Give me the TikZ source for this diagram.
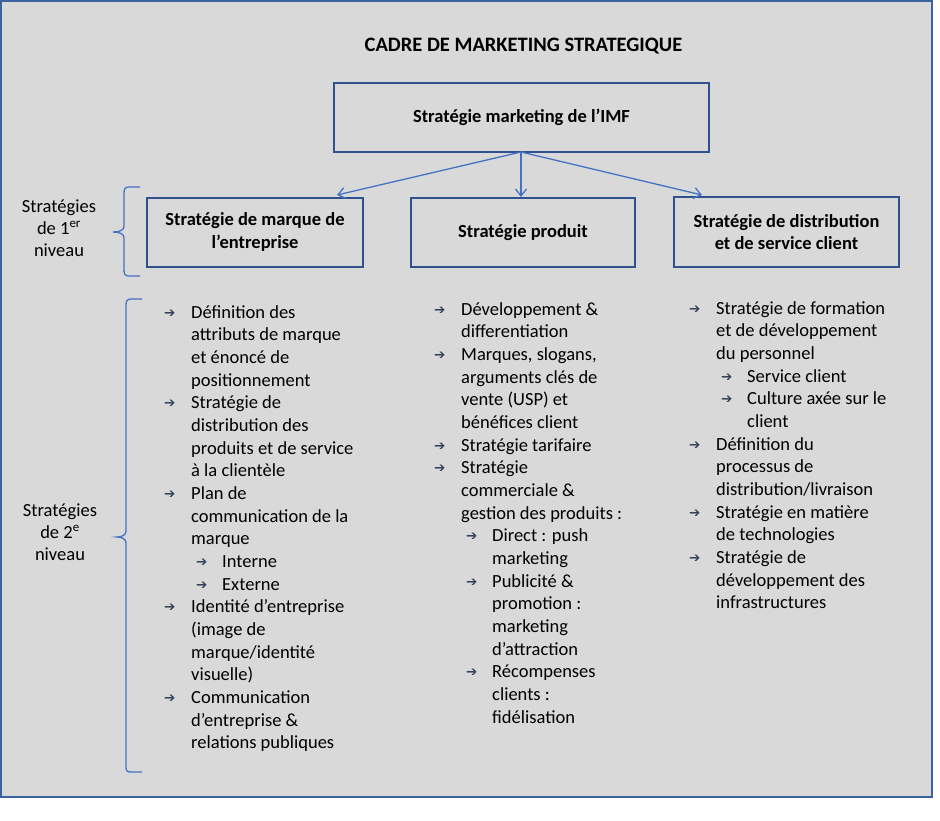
\documentclass[tikz,border=0pt]{standalone}
\usepackage{fontspec}
\setmainfont{Carlito}
\newfontfamily\symfont{DejaVu Sans}
\usetikzlibrary{arrows.meta}
\definecolor{bgc}{HTML}{D9D9D9}
\definecolor{framec}{HTML}{3D62A0}
\definecolor{boxc}{HTML}{2F528F}
\definecolor{arrc}{HTML}{4472C4}
\definecolor{bulc}{HTML}{36445A}
\newcommand{\bul}{\raisebox{0.8pt}{\color{bulc}\symfont\fontsize{13.5}{13.5}\selectfont ➔}}
\newcommand{\bi}{\leavevmode\llap{\makebox[27pt][l]{\bul}}}
\newcommand{\sbi}{\leavevmode\hspace*{31pt}\llap{\makebox[26pt][l]{\bul}}}
\newcommand{\sbc}{\leavevmode\hspace*{31pt}}
\newcommand{\colbox}[2]{\parbox[t]{#1}{\raggedright\fontsize{18.5}{22.67}\selectfont #2}}
\begin{document}
\begin{tikzpicture}[x=1pt,y=-1pt,
  lvlbox/.style={draw=boxc,line width=2pt,fill=none,align=center,font=\fontsize{18.5}{22.5}\selectfont\bfseries,inner sep=0pt},
  conn/.style={draw=arrc,line width=1.3pt,-{Straight Barb[length=7pt,width=11pt,line width=1.3pt]}},
  brace/.style={draw=arrc,line width=1.3pt},
  side/.style={align=center,font=\fontsize{18.5}{22}\selectfont,inner sep=0pt}]
\useasboundingbox (0,0) rectangle (940,820);
\fill[bgc] (1,1) rectangle (932,797);
\draw[framec,line width=1.5pt] (1,1) rectangle (932,797);
\node[anchor=base,font=\fontsize{20.5}{24}\selectfont\bfseries,inner sep=0pt] (title) at (523.5,51) {CADRE DE MARKETING STRATEGIQUE};
\node[lvlbox,minimum width=375pt,minimum height=69pt] (top) at (521.5,117.5) {Stratégie marketing de l’IMF};
\node[lvlbox,minimum width=216pt,minimum height=69pt] (b1) at (255,232) {Stratégie de marque de\\l’entreprise};
\node[lvlbox,minimum width=224pt,minimum height=69pt] (b2) at (523,232.5) {Stratégie produit};
\node[lvlbox,minimum width=225pt,minimum height=70pt] (b3) at (786.5,232) {Stratégie de distribution\\et de service client};
\coordinate (src) at (521,152);
\coordinate (t1) at (337,195);
\coordinate (t3) at (702,195);
\draw[conn] (src) -- (t1);
\draw[conn] (src) -- (src |- b2.north);
\draw[conn] (src) -- (t3);
% braces
\draw[brace] (140,187) -- (129,187) .. controls (125,187) and (124,189) .. (124,193) -- (124,226) .. controls (124,230) and (120,232) .. (113,232) .. controls (120,232) and (124,234) .. (124,238) -- (124,270) .. controls (124,274) and (125,276) .. (129,276) -- (140,276);
\draw[brace] (142,299) -- (131,299) .. controls (127,299) and (126,301) .. (126,305) -- (126,531) .. controls (126,535) and (122,537) .. (117,537) .. controls (122,537) and (126,539) .. (126,543) -- (126,767) .. controls (126,771) and (127,772) .. (131,772) -- (142,772);
\node[side,anchor=base] (l1) at (59,256) {Stratégies\\de 1\textsuperscript{er}\\niveau};
\node[side,anchor=base] (l2) at (60,560) {Stratégies\\de 2\textsuperscript{e}\\niveau};
% columns
\node[anchor=base west,inner sep=0pt] (c1) at (191,318) {\colbox{200pt}{%
\bi Définition des\\
attributs de marque\\
et énoncé de\\
positionnement\\
\bi Stratégie de\\
distribution des\\
produits et de service\\
à la clientèle\\
\bi Plan de\\
communication de la\\
marque\\
\sbi Interne\\
\sbi Externe\\
\bi Identité d’entreprise\\
(image de\\
marque/identité\\
visuelle)\\
\bi Communication\\
d’entreprise \&\\
relations publiques}};
\node[anchor=base west,inner sep=0pt] (c2) at (461,315) {\colbox{200pt}{%
\bi Développement \&\\
differentiation\\
\bi Marques, slogans,\\
arguments clés de\\
vente (USP) et\\
bénéfices client\\
\bi Stratégie tarifaire\\
\bi Stratégie\\
commerciale \&\\
gestion des produits :\\
\sbi Direct : push\\
\sbc marketing\\
\sbi Publicité \&\\
\sbc promotion :\\
\sbc marketing\\
\sbc d’attraction\\
\sbi Récompenses\\
\sbc clients :\\
\sbc fidélisation}};
\node[anchor=base west,inner sep=0pt] (c3) at (716,314) {\colbox{210pt}{%
\bi Stratégie de formation\\
et de développement\\
du personnel\\
\sbi Service client\\
\sbi Culture axée sur le\\
\sbc client\\
\bi Définition du\\
processus de\\
distribution/livraison\\
\bi Stratégie en matière\\
de technologies\\
\bi Stratégie de\\
développement des\\
infrastructures}};
\end{tikzpicture}
\end{document}
